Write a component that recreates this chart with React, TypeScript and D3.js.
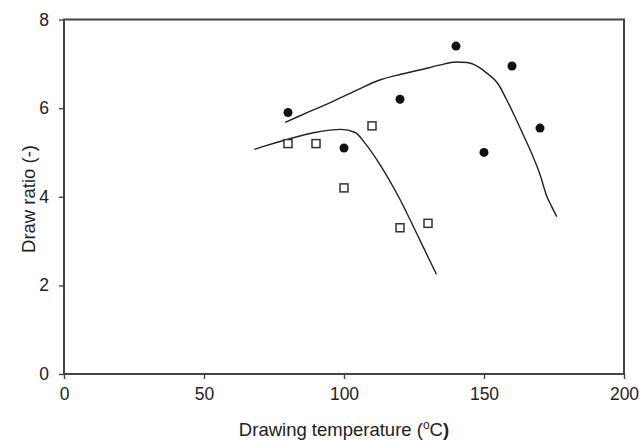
import React, { useEffect, useRef } from "react";
import * as d3 from "d3";

// measured points
const circleX = [80, 100, 120, 140, 150, 160, 170];
const circleY = [5.9, 5.1, 6.2, 7.4, 5.0, 6.95, 5.55];
const squareX = [80, 90, 100, 110, 120, 130];
const squareY = [5.2, 5.2, 4.2, 5.6, 3.3, 3.4];

// model curves
const upperX = [79, 88, 97, 105, 113, 120, 127, 134, 140, 144, 148, 151, 155, 158, 161, 164, 167, 170, 172.5, 174, 176];
const upperY = [5.68, 5.93, 6.18, 6.42, 6.64, 6.76, 6.86, 6.97, 7.04, 7.03, 6.93, 6.79, 6.55, 6.2, 5.81, 5.4, 4.98, 4.5, 4.0, 3.8, 3.55];
const lowerX = [68, 71, 79, 89.5, 99, 104, 107.5, 112.5, 119.5, 126.5, 133];
const lowerY = [5.07, 5.13, 5.28, 5.45, 5.52, 5.45, 5.21, 4.76, 4.0, 3.1, 2.25];

const xTicks = [0, 50, 100, 150, 200];
const yTicks = [0, 2, 4, 6, 8];

const W = 642;
const H = 441;

export default function App() {
  const ref = useRef<SVGSVGElement>(null);

  useEffect(() => {
    const svg = d3.select(ref.current);
    svg.selectAll("*").remove();

    const x = d3.scaleLinear().domain([0, 200]).range([64, 624]);
    const y = d3.scaleLinear().domain([0, 8]).range([374, 19.5]);
    const font = "Liberation Sans, Arial, sans-serif";
    const ink = "#222";
    const frame = "#444";

    const xAxis = svg
      .append("g")
      .attr("transform", `translate(0,${y(0)})`)
      .call(d3.axisBottom(x).tickValues(xTicks).tickSize(5).tickPadding(9).tickFormat(d3.format("d")));
    const yAxis = svg
      .append("g")
      .attr("transform", `translate(${x(0)},0)`)
      .call(d3.axisLeft(y).tickValues(yTicks).tickSize(5).tickPadding(10).tickFormat(d3.format("d")));
    [xAxis, yAxis].forEach((g) => {
      g.select(".domain").remove();
      g.selectAll("line").attr("stroke", frame).attr("stroke-width", 1.4);
      g.selectAll("text").attr("font-family", font).attr("font-size", 17.5).attr("fill", ink);
    });

    // frame
    svg
      .append("path")
      .attr("d", `M${x(0)},${y(0)}H${x(200)}V${y(8)}H${x(0)}Z`)
      .attr("fill", "none")
      .attr("stroke", frame)
      .attr("stroke-width", 2);

    const line = d3
      .line<[number, number]>()
      .x((d) => x(d[0]))
      .y((d) => y(d[1]))
      .curve(d3.curveMonotoneX);

    const curves = [
      upperX.map((v, i) => [v, upperY[i]] as [number, number]),
      lowerX.map((v, i) => [v, lowerY[i]] as [number, number]),
    ];
    svg
      .selectAll("path.curve")
      .data(curves)
      .join("path")
      .attr("class", "curve")
      .attr("d", (d) => line(d))
      .attr("fill", "none")
      .attr("stroke", ink)
      .attr("stroke-width", 1.4);

    svg
      .selectAll("circle.pt")
      .data(circleX.map((v, i) => [v, circleY[i]]))
      .join("circle")
      .attr("class", "pt")
      .attr("cx", (d) => x(d[0]))
      .attr("cy", (d) => y(d[1]))
      .attr("r", 4.5)
      .attr("fill", "#111");

    const s = 8;
    svg
      .selectAll("rect.sq")
      .data(squareX.map((v, i) => [v, squareY[i]]))
      .join("rect")
      .attr("class", "sq")
      .attr("x", (d) => x(d[0]) - s / 2)
      .attr("y", (d) => y(d[1]) - s / 2)
      .attr("width", s)
      .attr("height", s)
      .attr("fill", "white")
      .attr("stroke", "#333")
      .attr("stroke-width", 1.5);

    // axis titles
    const xt = svg
      .append("text")
      .attr("x", x(100))
      .attr("y", 436)
      .attr("text-anchor", "middle")
      .attr("font-family", font)
      .attr("font-size", 18.5)
      .attr("fill", ink);
    xt.append("tspan").text("Drawing temperature (");
    xt.append("tspan").attr("dy", -7).attr("font-size", 12).text("o");
    xt.append("tspan").attr("dy", 7).text("C");
    xt.append("tspan").attr("font-weight", "bold").text(")");

    svg
      .append("text")
      .attr("transform", `translate(35,199) rotate(-90)`)
      .attr("text-anchor", "middle")
      .attr("font-family", font)
      .attr("font-size", 18.5)
      .attr("fill", ink)
      .text("Draw ratio (-)");
  }, []);

  return <svg ref={ref} width={W} height={H} style={{ position: "absolute", left: 0, top: 0, background: "white" }} />;
}
